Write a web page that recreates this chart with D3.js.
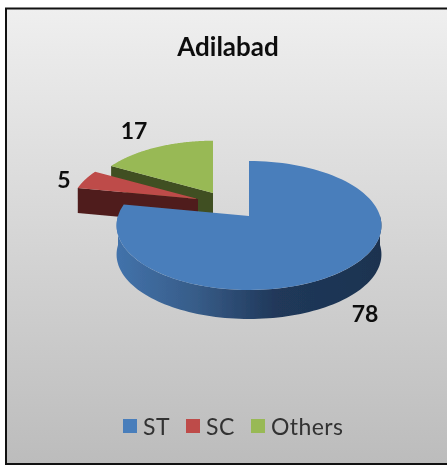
<!DOCTYPE html>
<html>
<head>
<meta charset="utf-8">
<script src="https://cdn.jsdelivr.net/npm/d3@7"></script>
<style>
  html, body { margin: 0; padding: 0; background: #fff; }
  text { font-family: Lato, sans-serif; }
</style>
</head>
<body>
<div id="chart"></div>
<script>
const title = "Adilabad";
const categories = ["ST", "SC", "Others"];
const values = [78, 5, 17];
const topColors = ["#4a7ebb", "#be4b48", "#98b954"];
const sideColors = ["#1f3552", "#4f1d1c", "#414f22"];

const width = 447, height = 466;

// tilted pie: circle -> ellipse with a bit of perspective so the apex sits behind ellipse centre
const rx = 131, ry = 63.1, k = 0.147;
const centre = { x: 249, y: 216 };
// how far each slice is pulled out, its size and how thick it is drawn
const explode = [[0, 0], [-51, -17], [-36, -23]];
const shrink = [1, 0.96, 0.95];
const depth = [29, 26, 24];

const svg = d3.select("#chart").append("svg")
  .attr("width", width)
  .attr("height", height)
  .style("display", "block");

const defs = svg.append("defs");

const bg = defs.append("linearGradient").attr("id", "bg")
  .attr("x1", 0).attr("y1", 0).attr("x2", 0).attr("y2", 1);
bg.append("stop").attr("offset", "0%").attr("stop-color", "#efefef");
bg.append("stop").attr("offset", "100%").attr("stop-color", "#bcbcbc");

// wall gradient is in slice coordinates
const wall = defs.append("linearGradient").attr("id", "wall")
  .attr("gradientUnits", "userSpaceOnUse")
  .attr("x1", -rx).attr("y1", 0).attr("x2", rx).attr("y2", 0);
wall.append("stop").attr("offset", "0%").attr("stop-color", "#4272aa");
wall.append("stop").attr("offset", "30%").attr("stop-color", "#375c88");
wall.append("stop").attr("offset", "60%").attr("stop-color", "#20385a");
wall.append("stop").attr("offset", "100%").attr("stop-color", "#1d3350");

defs.append("filter").attr("id", "soft")
  .append("feGaussianBlur").attr("stdDeviation", 0.5);

svg.append("rect")
  .attr("x", 6).attr("y", 8.5)
  .attr("width", 450).attr("height", 455.5)
  .attr("fill", "url(#bg)")
  .attr("stroke", "#111")
  .attr("stroke-width", 2);

const pie = d3.pie().sort(null)(values);

function project(angle) {
  const u = Math.sin(angle), v = -Math.cos(angle);
  const w = 1 - k * v;
  return [rx * u / w, ry * v / w];
}

function arcPoints(a0, a1) {
  return d3.range(0, 101).map(i => project(a0 + (a1 - a0) * i / 100));
}

const line = d3.line();
const g = svg.append("g").attr("filter", "url(#soft)");

// back slices first so the big one covers them
[2, 1, 0].forEach(i => {
  const d = pie[i];
  const slice = g.append("g")
    .attr("transform", `translate(${centre.x + explode[i][0]},${centre.y + explode[i][1]})`);
  const face = slice.append("g").attr("transform", `scale(${shrink[i]})`);

  if (i === 0) {
    // outer wall, only the front half shows
    const front = arcPoints(Math.PI / 2, Math.PI * 1.5);
    const lower = front.map(p => [p[0], p[1] + depth[i]]).reverse();
    face.append("path")
      .attr("d", line(front.concat(lower)) + "Z")
      .attr("fill", "url(#wall)");
  } else {
    // cut face of a pulled out slice
    const tip = project(d.startAngle);
    face.append("path")
      .attr("d", line([[0, 0], tip, [tip[0], tip[1] + depth[i]], [0, depth[i]]]) + "Z")
      .attr("fill", sideColors[i]);
  }

  face.append("path")
    .attr("d", line([[0, 0]].concat(arcPoints(d.startAngle, d.endAngle))) + "Z")
    .attr("fill", topColors[i]);
});

const labelPos = [[365, 314], [64, 180], [134, 131]];
const labels = svg.append("g").attr("filter", "url(#soft)");

labels.selectAll("text.value")
  .data(values)
  .join("text")
  .attr("class", "value")
  .attr("x", (d, i) => labelPos[i][0])
  .attr("y", (d, i) => labelPos[i][1])
  .attr("dy", "0.35em")
  .attr("text-anchor", "middle")
  .attr("font-size", 23)
  .attr("font-weight", 700)
  .attr("fill", "#111")
  .text(d => d);

labels.append("text")
  .attr("x", 228).attr("y", 47)
  .attr("dy", "0.35em")
  .attr("text-anchor", "middle")
  .attr("font-size", 26)
  .attr("font-weight", 700)
  .attr("fill", "#111")
  .text(title);

const legendX = [123, 186, 251];
const legend = labels.selectAll("g.key")
  .data(categories)
  .join("g")
  .attr("class", "key")
  .attr("transform", (d, i) => `translate(${legendX[i]},419)`);

legend.append("rect")
  .attr("width", 14).attr("height", 14)
  .attr("fill", (d, i) => topColors[i]);

legend.append("text")
  .attr("x", 20).attr("y", 8)
  .attr("dy", "0.35em")
  .attr("font-size", 23)
  .attr("letter-spacing", 0.4)
  .attr("fill", "#333")
  .text(d => d);
</script>
</body>
</html>
